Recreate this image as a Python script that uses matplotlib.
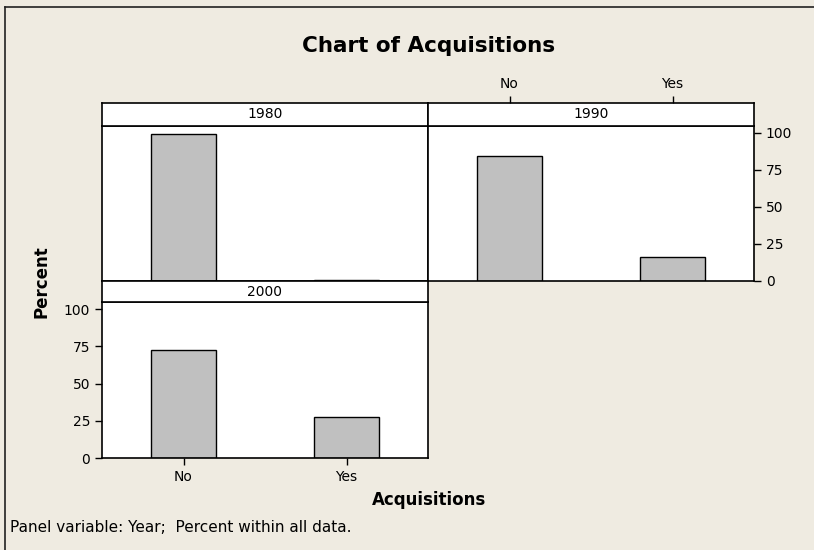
import matplotlib.pyplot as plt

# Datos
categories = ["No", "Yes"]
years = ["1980", "1990", "2000"]
pct_1980 = [99.0, 1.0]
pct_1990 = [84.1, 15.9]
pct_2000 = [72.6, 27.4]
y_ticks = [0, 25, 50, 75, 100]

W, H = 814, 550
bg = "#EFEBE1"
plt.rcParams['font.family'] = ['DejaVu Sans']

fig = plt.figure(figsize=(W / 100, H / 100), dpi=100, facecolor=bg)


def px_axes(x0, y0, x1, y1):
    # rectangulo en pixeles (origen arriba a la izquierda)
    return fig.add_axes([x0 / W, 1 - y1 / H, (x1 - x0) / W, (y1 - y0) / H])


def panel(x0, x1, strip_top, strip_bot, plot_bot, values, year):
    ax = px_axes(x0, strip_bot, x1, plot_bot)
    ax.bar(range(len(categories)), values, width=0.4, color="#C0C0C0",
           edgecolor="black", linewidth=1.0)
    ax.set_xlim(-0.5, 1.5)
    ax.set_ylim(0, 104.7)
    ax.set_facecolor("white")
    for s in ax.spines.values():
        s.set_linewidth(1.2)
    ax.set_xticks(range(len(categories)))
    ax.set_yticks(y_ticks)
    ax.tick_params(length=5, width=1, labelsize=10, colors="black")
    ax.tick_params(bottom=False, left=False, labelbottom=False, labelleft=False)

    st = px_axes(x0, strip_top, x1, strip_bot)
    st.set_facecolor("white")
    st.set_xlim(-0.5, 1.5)
    st.set_ylim(0, 1)
    st.set_yticks([])
    st.set_xticks(range(len(categories)))
    st.tick_params(bottom=False, labelbottom=False, length=5, width=1, labelsize=10)
    for s in st.spines.values():
        s.set_linewidth(1.2)
    st.text(0.5, 0.5, year, transform=st.transAxes, ha="center", va="center",
            fontsize=10)
    return ax, st


ax80, st80 = panel(102, 428, 103, 126, 281, pct_1980, years[0])
ax90, st90 = panel(428, 754, 103, 126, 281, pct_1990, years[1])
ax00, st00 = panel(102, 428, 281, 302, 458, pct_2000, years[2])

# eje derecho del panel 1990
ax90.tick_params(right=True, labelright=True)
# eje superior del panel 1990
st90.tick_params(top=True, labeltop=True)
st90.set_xticklabels(categories)
# ejes izquierdo e inferior del panel 2000
ax00.tick_params(left=True, labelleft=True, bottom=True, labelbottom=True)
ax00.set_xticklabels(categories)

fig.text(429 / W, 1 - 46 / H, "Chart of Acquisitions", ha="center", va="center",
         fontsize=15.5, fontweight="bold")
fig.text(42 / W, 1 - 282 / H, "Percent", ha="center", va="center", rotation=90,
         fontsize=12, fontweight="bold")
fig.text(429 / W, 1 - 500 / H, "Acquisitions", ha="center", va="center",
         fontsize=12, fontweight="bold")
fig.text(10 / W, 1 - 528 / H, "Panel variable: Year;  Percent within all data.",
         ha="left", va="center", fontsize=11)

# borde superior e izquierdo del marco
fig.add_artist(plt.Line2D([5 / W, 1], [1 - 7 / H, 1 - 7 / H], color="#222222", lw=1.2))
fig.add_artist(plt.Line2D([5 / W, 5 / W], [1 - 7 / H, 0], color="#222222", lw=1.2))

fig.savefig("out.png", dpi=100, facecolor=bg)
